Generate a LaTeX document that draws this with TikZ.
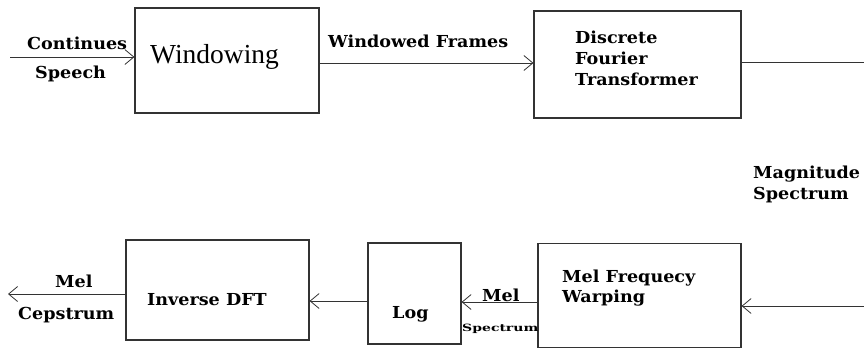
\documentclass[tikz,border=0pt]{standalone}
\usepackage{fontspec}
\setmainfont{Liberation Serif}
\newfontfamily\labfont[FakeStretch=1.065]{DejaVu Serif}
\newfontfamily\smalllabfont[FakeStretch=1.4]{DejaVu Serif}
\usetikzlibrary{arrows.meta}

\begin{document}
\begin{tikzpicture}[x=1pt,y=-1pt,
  block/.style={draw=black!80, line width=1.1pt, inner sep=0pt},
  wire/.style={draw=black!80, line width=1pt},
  arr/.style={wire, -{Straight Barb[length=9pt,width=15pt,line width=0.8pt]}},
  lab/.style={inner sep=0pt, anchor=base west, font=\labfont\bfseries\fontsize{16.5}{19}\selectfont},
  tiny/.style={inner sep=0pt, anchor=base west, font=\smalllabfont\bfseries\fontsize{10}{12}\selectfont},
  big/.style={inner sep=0pt, anchor=base west, font=\fontsize{27.5}{31}\selectfont}]

\useasboundingbox (0,0) rectangle (864,349);

% processing blocks
\node[block, minimum width=184pt, minimum height=105pt] (win)  at (227,60.5)  {};
\node[block, minimum width=207pt, minimum height=107pt] (dft)  at (637.5,64.5) {};
\node[block, minimum width=203pt, minimum height=104pt] (mel)  at (639.5,295.5) {};
\node[block, minimum width=93pt,  minimum height=101pt] (log)  at (414.5,293.5) {};
\node[block, minimum width=183pt, minimum height=100pt] (idft) at (217.5,290) {};

% free ends of the signal path
\coordinate (src)   at (10,57);
\coordinate (sink)  at (8,294);
\coordinate (edgeA) at (864,62);
\coordinate (edgeB) at (864,306);

% block texts
\node[big] (twin) at (150,63) {Windowing};
\node[lab] (tdft1) at (575,43) {Discrete};
\node[lab] (tdft2) at (575,64) {Fourier};
\node[lab] (tdft3) at (575,85) {Transformer};
\node[lab] (tmel1) at (562,282) {Mel Frequecy};
\node[lab] (tmel2) at (562,302) {Warping};
\node[lab] (tlog)  at (392,318) {Log};
\node[lab] (tidft) at (147,305) {Inverse DFT};

% connector labels
\node[lab] (lin1)  at (27,49)  {Continues};
\node[lab] (lin2)  at (35,78)  {Speech};
\node[lab] (lwf)   at (328,47) {Windowed Frames};
\node[lab] (lmag1) at (753,178) {Magnitude};
\node[lab] (lmag2) at (753,199) {Spectrum};
\node[lab] (lms1)  at (482,301) {Mel};
\node[tiny] (lms2) at (462,331) {Spectrum};
\node[lab] (lmc1)  at (55,287)  {Mel};
\node[lab] (lmc2)  at (18,319)  {Cepstrum};

% signal path
\draw[arr]  (src) -- ([yshift=3.5pt]win.west);
\draw[arr]  ([yshift=-2.5pt]win.east) -- ([yshift=1.5pt]dft.west);
\draw[wire] ([yshift=2.5pt]dft.east) -- (edgeA);
\draw[arr]  (edgeB) -- ([yshift=-10.5pt]mel.east);
\draw[arr]  ([yshift=-6.5pt]mel.west) -- ([yshift=-8.5pt]log.east);
\draw[arr]  ([yshift=-7.5pt]log.west) -- ([yshift=-11pt]idft.east);
\draw[arr]  ([yshift=-4pt]idft.west) -- (sink);
\end{tikzpicture}
\end{document}
